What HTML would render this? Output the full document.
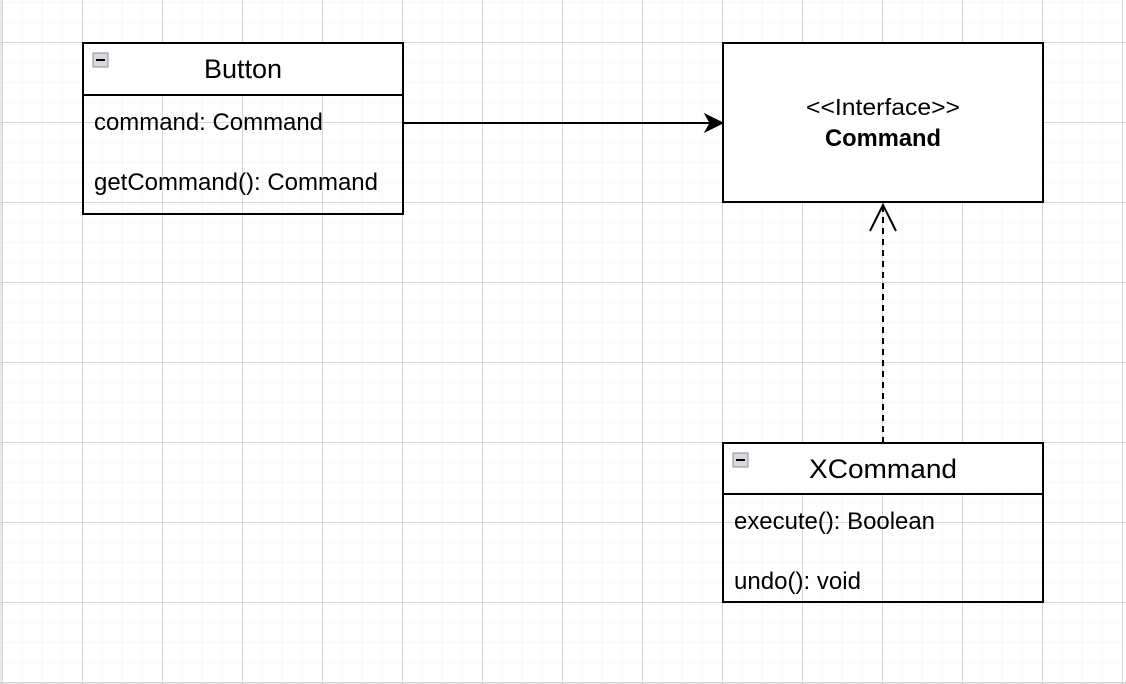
<!DOCTYPE html>
<html><head><meta charset="utf-8"><style>
html,body{margin:0;padding:0;background:#fff;}
svg{display:block;}
text{font-family:"Liberation Sans",Arial,sans-serif;fill:#000;}
</style></head><body>
<svg width="1126" height="684" viewBox="0 0 1126 684" xmlns="http://www.w3.org/2000/svg">
<defs>
<pattern id="minor" width="20" height="20" patternUnits="userSpaceOnUse" x="2" y="2">
<path d="M0 0H20M0 0V20" stroke="#efefef" stroke-width="1" fill="none"/>
</pattern>
<pattern id="major" width="80" height="80" patternUnits="userSpaceOnUse" x="2" y="42">
<path d="M0 0.5H80M0.5 0V80" stroke="#d6d6d6" stroke-width="1" fill="none"/>
</pattern>
</defs>
<rect width="1126" height="684" fill="#fff"/>
<rect width="1126" height="684" fill="url(#minor)"/>
<rect width="1126" height="684" fill="url(#major)"/>
<line x1="1" y1="0" x2="1" y2="684" stroke="#d6d6d6"/>
<line x1="0" y1="683" x2="1126" y2="683" stroke="#d6d6d6"/>

<!-- Button -->
<rect x="83" y="43" width="320" height="52" fill="#fff"/>
<rect x="83" y="43" width="320" height="171" fill="none" stroke="#000" stroke-width="2"/>
<line x1="83" y1="95" x2="403" y2="95" stroke="#000" stroke-width="2"/>
<rect x="93" y="53" width="15" height="14" fill="#d8d8dc" stroke="#8a8f9a" stroke-width="1"/>
<line x1="96" y1="60" x2="105" y2="60" stroke="#000" stroke-width="2"/>
<text x="243" y="78" font-size="27" text-anchor="middle">Button</text>
<text x="94" y="130" font-size="24" textLength="229" lengthAdjust="spacingAndGlyphs">command: Command</text>
<text x="94" y="190" font-size="24" textLength="284" lengthAdjust="spacingAndGlyphs">getCommand(): Command</text>

<!-- Command -->
<rect x="723" y="43" width="320" height="159" fill="#fff" stroke="#000" stroke-width="2"/>
<text x="883" y="115" font-size="23" text-anchor="middle" textLength="154" lengthAdjust="spacingAndGlyphs">&lt;&lt;Interface&gt;&gt;</text>
<text x="883" y="146" font-size="24" font-weight="bold" text-anchor="middle" textLength="116" lengthAdjust="spacingAndGlyphs">Command</text>

<!-- XCommand -->
<rect x="723" y="443" width="320" height="51" fill="#fff"/>
<rect x="723" y="443" width="320" height="159" fill="none" stroke="#000" stroke-width="2"/>
<line x1="723" y1="494" x2="1043" y2="494" stroke="#000" stroke-width="2"/>
<rect x="733" y="453" width="15" height="14" fill="#d8d8dc" stroke="#8a8f9a" stroke-width="1"/>
<line x1="736" y1="460" x2="745" y2="460" stroke="#000" stroke-width="2"/>
<text x="883" y="478" font-size="27" text-anchor="middle" textLength="148" lengthAdjust="spacingAndGlyphs">XCommand</text>
<text x="734" y="529" font-size="24" textLength="201" lengthAdjust="spacingAndGlyphs">execute(): Boolean</text>
<text x="734" y="589" font-size="24" textLength="127" lengthAdjust="spacingAndGlyphs">undo(): void</text>

<!-- association arrow -->
<line x1="403" y1="123" x2="712" y2="123" stroke="#000" stroke-width="2"/>
<path d="M723 123 L705 114 L710 123 L705 132 Z" fill="#000" stroke="#000" stroke-width="1"/>

<!-- realization -->
<line x1="883" y1="443" x2="883" y2="206" stroke="#000" stroke-width="2" stroke-dasharray="6,5"/>
<path d="M870 231 L883 205 L896 231" fill="none" stroke="#000" stroke-width="2"/>
</svg>
</body></html>
